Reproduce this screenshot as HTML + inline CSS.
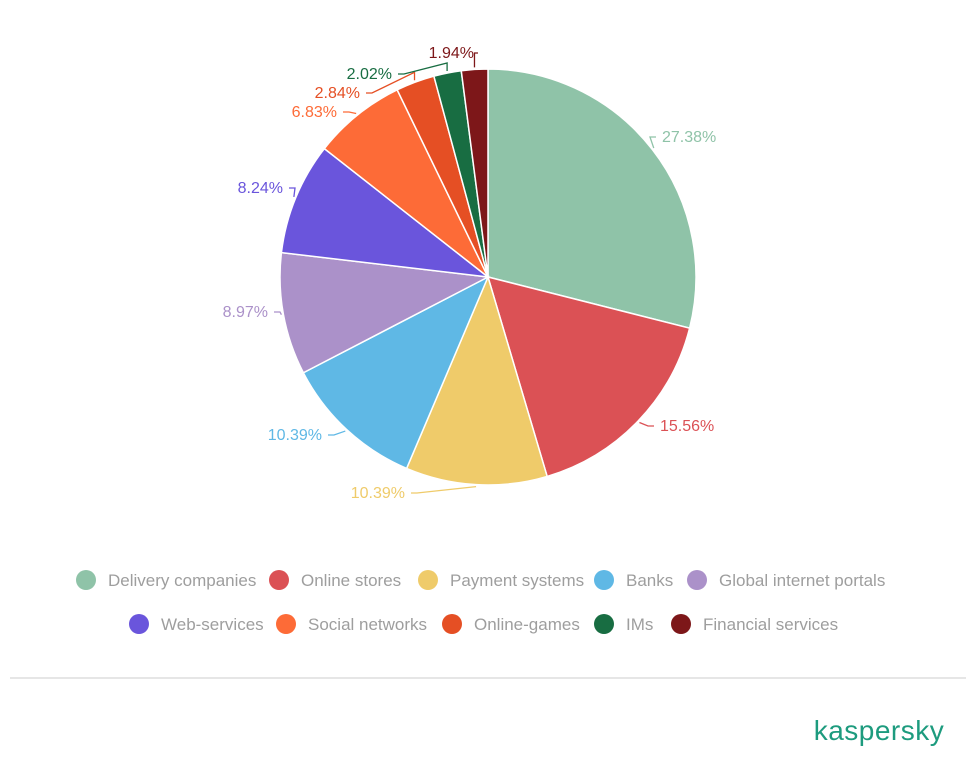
<!DOCTYPE html>
<html><head><meta charset="utf-8"><style>
body{margin:0;background:#fff;width:979px;height:779px;overflow:hidden;font-family:"Liberation Sans",sans-serif}
</style></head><body>
<svg id="chart" width="979" height="779" xmlns="http://www.w3.org/2000/svg">
<line x1="10" y1="678" x2="966" y2="678" stroke="#dddddd" stroke-width="1.5"/>
<text x="879" y="740" text-anchor="middle" font-size="28" fill="#1d9b7e" font-family="Liberation Sans, sans-serif" letter-spacing="0.5">kaspersky</text>
</svg>
<script>
const categories=["Delivery companies","Online stores","Payment systems","Banks","Global internet portals","Web-services","Social networks","Online-games","IMs","Financial services"];
const values=[27.38,15.56,10.39,10.39,8.97,8.24,6.83,2.84,2.02,1.94];
const valueLabels=["27.38%","15.56%","10.39%","10.39%","8.97%","8.24%","6.83%","2.84%","2.02%","1.94%"];
const colors=["#8fc3a8","#db5155","#efcb6a","#5fb8e5","#ab91c9","#6a55dc","#fd6b37","#e54f24","#186d42","#7d1719"];
// label layout (text anchor point x, baseline y, side) – layout only
const labelLayout=[[662,142,1],[660,431,1],[405,498,-1],[322,440,-1],[268,317,-1],[283,193,-1],[337,117,-1],[360,98,-1],[392,79,-1],[474,58,-1]];
const NS="http://www.w3.org/2000/svg";
const svg=document.getElementById('chart');
const cx=488,cy=277,R=208;
const total=values.reduce((a,b)=>a+b,0);
function pt(a,r){return [cx+r*Math.sin(a),cy-r*Math.cos(a)];}
let a0=0;
values.forEach((v,i)=>{
  const a1=a0+v/total*2*Math.PI;
  const p0=pt(a0,R),p1=pt(a1,R);
  const large=(a1-a0)>Math.PI?1:0;
  const path=document.createElementNS(NS,'path');
  path.setAttribute('d',`M${cx},${cy}L${p0[0]},${p0[1]}A${R},${R} 0 ${large} 1 ${p1[0]},${p1[1]}Z`);
  path.setAttribute('fill',colors[i]);path.setAttribute('stroke','#fff');path.setAttribute('stroke-width','1.5');
  
  
  svg.appendChild(path);
  const m=(a0+a1)/2;
  const e=pt(m,R+2);
  const L=labelLayout[i];
  const ly=L[1]-5;
  const tx=L[0];
  let pts;
  if(i===9){pts=`${e[0]},${e[1]} ${e[0]},${ly} ${tx+4},${ly}`;}
  else{
    const ex=L[2]>0?tx-6:tx+6;
    const kx=L[2]>0?ex-6:ex+6;
    pts=`${e[0]},${e[1]} ${kx},${ly} ${ex},${ly}`;
    if(i>=7){pts=`${e[0]},${e[1]} ${e[0]},${e[1]-8} ${kx},${ly} ${ex},${ly}`;}
  }
  const ln=document.createElementNS(NS,'polyline');
  ln.setAttribute('points',pts);
  ln.setAttribute('fill','none');ln.setAttribute('stroke',colors[i]);ln.setAttribute('stroke-width','1.3');
  
  
  svg.appendChild(ln);
  const t=document.createElementNS(NS,'text');
  t.setAttribute('x',tx);t.setAttribute('y',L[1]);
  t.setAttribute('text-anchor',L[2]>0?'start':'end');
  t.setAttribute('font-size','16');t.setAttribute('fill',colors[i]);
  t.textContent=valueLabels[i];
  
  
  svg.appendChild(t);
  a0=a1;
});
const legendX=[86,279,428,604,697,139,286,452,604,681];
categories.forEach((c,i)=>{
  const row=i<5?0:1;const y=row?624:580;
  const g=document.createElementNS(NS,'g');
  
  
  const ci=document.createElementNS(NS,'circle');
  ci.setAttribute('cx',legendX[i]);ci.setAttribute('cy',y);ci.setAttribute('r','10');ci.setAttribute('fill',colors[i]);
  g.appendChild(ci);
  const t=document.createElementNS(NS,'text');
  t.setAttribute('x',legendX[i]+22);t.setAttribute('y',y+6);t.setAttribute('font-size','17');t.setAttribute('fill','#9e9e9e');
  t.textContent=c;g.appendChild(t);
  svg.appendChild(g);
});
</script>
</body></html>
